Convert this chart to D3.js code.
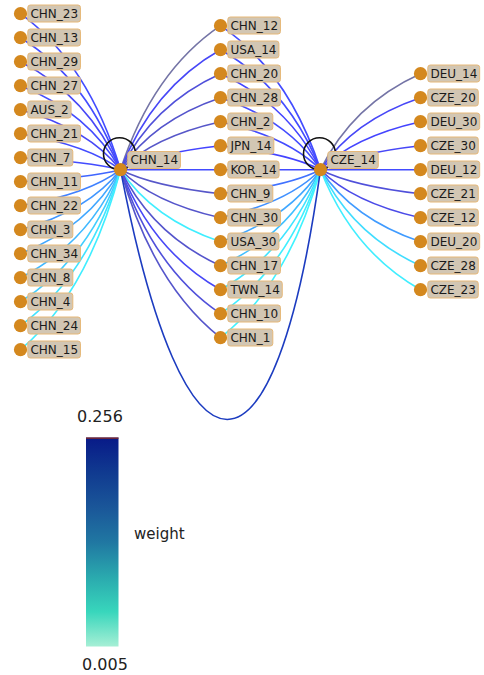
<!DOCTYPE html>
<html>
<head>
<meta charset="utf-8">
<script src="https://cdn.jsdelivr.net/npm/d3@7"></script>
<style>
  body { margin: 0; background: #fff; }
  svg { display: block; font-family: "DejaVu Sans", sans-serif; }
</style>
</head>
<body>
<script>
// node names, per column (top to bottom)
const leftNodes = ["CHN_23", "CHN_13", "CHN_29", "CHN_27", "AUS_2", "CHN_21", "CHN_7", "CHN_11",
  "CHN_22", "CHN_3", "CHN_34", "CHN_8", "CHN_4", "CHN_24", "CHN_15"];
const middleNodes = ["CHN_12", "USA_14", "CHN_20", "CHN_28", "CHN_2", "JPN_14", "KOR_14", "CHN_9",
  "CHN_30", "USA_30", "CHN_17", "TWN_14", "CHN_10", "CHN_1"];
const rightNodes = ["DEU_14", "CZE_20", "DEU_30", "CZE_30", "DEU_12", "CZE_21", "CZE_12", "DEU_20",
  "CZE_28", "CZE_23"];
const hubNodes = ["CHN_14", "CZE_14"];

// edge weights (estimated from the colours)
const leftWeights = [0.04, 0.04, 0.045, 0.04, 0.045, 0.04, 0.04, 0.033, 0.026, 0.021, 0.018, 0.015,
  0.012, 0.009, 0.007];                       // left -> CHN_14
const middleWeightsCHN = [0.12, 0.045, 0.055, 0.06, 0.065, 0.042, 0.04, 0.065, 0.062, 0.007,
  0.06, 0.045, 0.055, 0.062];                  // middle -> CHN_14
const middleWeightsCZE = [0.04, 0.04, 0.042, 0.04, 0.04, 0.042, 0.04, 0.03, 0.022, 0.018, 0.014,
  0.009, 0.007, 0.006];                        // middle -> CZE_14
const rightWeights = [0.12, 0.045, 0.042, 0.045, 0.04, 0.055, 0.05, 0.02, 0.01, 0.007]; // right -> CZE_14
const hubWeight = 0.256;                       // CHN_14 -> CZE_14

// colour bar
const weightRange = [0.005, 0.256];
const barTicks = ["0.005", "0.256"];
const barStops = ["#a6efd5", "#38d6bc", "#2aa9ae", "#2077a2", "#1a5699", "#103a90", "#081a88"];

const width = 484, height = 675;

const x = d3.scaleLinear().domain([0, 4]).range([20.5, 420.5]);
const y = d3.scaleLinear().domain([0, 1]).range([181.7, 205.7]);

const edgeColor = d3.scaleLinear()
  .domain([0.005, 0.009, 0.015, 0.022, 0.033, 0.042, 0.06, 0.12, 0.256])
  .range(["#3ff8ff", "#40e4ff", "#40b8ff", "#4090ff", "#4066ff", "#4444ff", "#5454cc", "#7474a6", "#1c3cc0"]);

const svg = d3.select("body").append("svg")
  .attr("width", width)
  .attr("height", height);

//build nodes
const nodes = {};
function addColumn(names, col) {
  names.forEach((n, i) => {
    nodes[n] = { name: n, col: col, row: i - (names.length - 1) / 2, hub: false };
  });
}
addColumn(leftNodes, 0);
addColumn(middleNodes, 2);
addColumn(rightNodes, 4);
hubNodes.forEach((n, i) => {
  nodes[n] = { name: n, col: 1 + 2 * i, row: -0.5, hub: true };
});
Object.values(nodes).forEach((d) => {
  d.x = x(d.col);
  d.y = y(d.row);
});

//build edges
const edges = [];
leftNodes.forEach((n, i) => edges.push({ hub: "CHN_14", node: n, w: leftWeights[i] }));
middleNodes.forEach((n, i) => edges.push({ hub: "CHN_14", node: n, w: middleWeightsCHN[i] }));
middleNodes.forEach((n, i) => edges.push({ hub: "CZE_14", node: n, w: middleWeightsCZE[i] }));
rightNodes.forEach((n, i) => edges.push({ hub: "CZE_14", node: n, w: rightWeights[i] }));

function edgePath(e) {
  const h = nodes[e.hub], n = nodes[e.node];
  const mx = (h.x + n.x) / 2, my = (h.y + n.y) / 2;
  const cx = mx + 0.36 * (h.x - mx), cy = my + 0.36 * (n.y - my);
  return `M${h.x},${h.y}Q${cx},${cy} ${n.x},${n.y}`;
}

const gEdges = svg.append("g").attr("fill", "none").attr("stroke-width", 1.6);

gEdges.selectAll("path.edge")
  .data(edges)
  .enter()
  .append("path")
  .attr("class", "edge")
  .attr("d", edgePath)
  .attr("stroke", (d) => edgeColor(d.w));

//big arc between the two hubs
const h1 = nodes["CHN_14"], h2 = nodes["CZE_14"];
gEdges.append("path")
  .attr("d", `M${h1.x},${h1.y}C${h1.x + 64},${h1.y + 333} ${h2.x - 46},${h2.y + 333} ${h2.x},${h2.y}`)
  .attr("stroke", edgeColor(hubWeight));

//self loops
gEdges.selectAll("circle.loop")
  .data(hubNodes.map((n) => nodes[n]))
  .enter()
  .append("circle")
  .attr("class", "loop")
  .attr("cx", (d) => d.x - 1)
  .attr("cy", (d) => d.y - 16)
  .attr("r", 16)
  .attr("stroke", "#111");

//vertices
svg.append("g")
  .selectAll("circle")
  .data(Object.values(nodes))
  .enter()
  .append("circle")
  .attr("cx", (d) => d.x)
  .attr("cy", (d) => d.y)
  .attr("r", 6.6)
  .attr("fill", "#d4881e");

//labels
const labels = svg.append("g")
  .selectAll("g")
  .data(Object.values(nodes))
  .enter()
  .append("g")
  .attr("transform", (d) => `translate(${d.x + 7.3}, ${d.hub ? d.y - 9.7 : d.y - 0.2})`);

labels.append("rect");
labels.append("text")
  .attr("x", 2.6)
  .attr("y", 4.4)
  .style("font-size", "12px")
  .attr("fill", "#1a1a1a")
  .text((d) => d.name);

labels.each(function () {
  const g = d3.select(this);
  const w = g.select("text").node().getComputedTextLength();
  g.select("rect")
    .attr("x", 0)
    .attr("y", -8.5)
    .attr("width", w + 5)
    .attr("height", 17)
    .attr("rx", 2.5)
    .attr("fill", "#d2c6b3")
    .attr("stroke", "#e6b878")
    .attr("stroke-width", 1);
});

//colour bar
const barX = 86, barW = 32.5;
const barY = d3.scaleLinear().domain(weightRange).range([646.5, 437.5]);

const grad = svg.append("defs").append("linearGradient")
  .attr("id", "cbar")
  .attr("x1", 0).attr("x2", 0).attr("y1", 1).attr("y2", 0);
grad.selectAll("stop")
  .data(barStops)
  .enter()
  .append("stop")
  .attr("offset", (d, i) => i / (barStops.length - 1))
  .attr("stop-color", (d) => d);

svg.append("rect")
  .attr("x", barX)
  .attr("y", barY(weightRange[1]))
  .attr("width", barW)
  .attr("height", barY(weightRange[0]) - barY(weightRange[1]))
  .attr("fill", "url(#cbar)");

svg.append("line")
  .attr("x1", barX).attr("x2", barX + barW)
  .attr("y1", barY(weightRange[1]) + 0.6).attr("y2", barY(weightRange[1]) + 0.6)
  .attr("stroke", "#8e2a22")
  .attr("stroke-width", 1.3);

svg.append("text")
  .attr("x", 100)
  .attr("y", barY(weightRange[1]) - 15.5)
  .attr("text-anchor", "middle")
  .style("font-size", "16px")
  .attr("fill", "#222")
  .text(barTicks[1]);

svg.append("text")
  .attr("x", 105)
  .attr("y", barY(weightRange[0]) + 23.5)
  .attr("text-anchor", "middle")
  .style("font-size", "16px")
  .attr("fill", "#222")
  .text(barTicks[0]);

svg.append("text")
  .attr("x", 134)
  .attr("y", 539)
  .style("font-size", "15px")
  .attr("fill", "#222")
  .text("weight");
</script>
</body>
</html>
